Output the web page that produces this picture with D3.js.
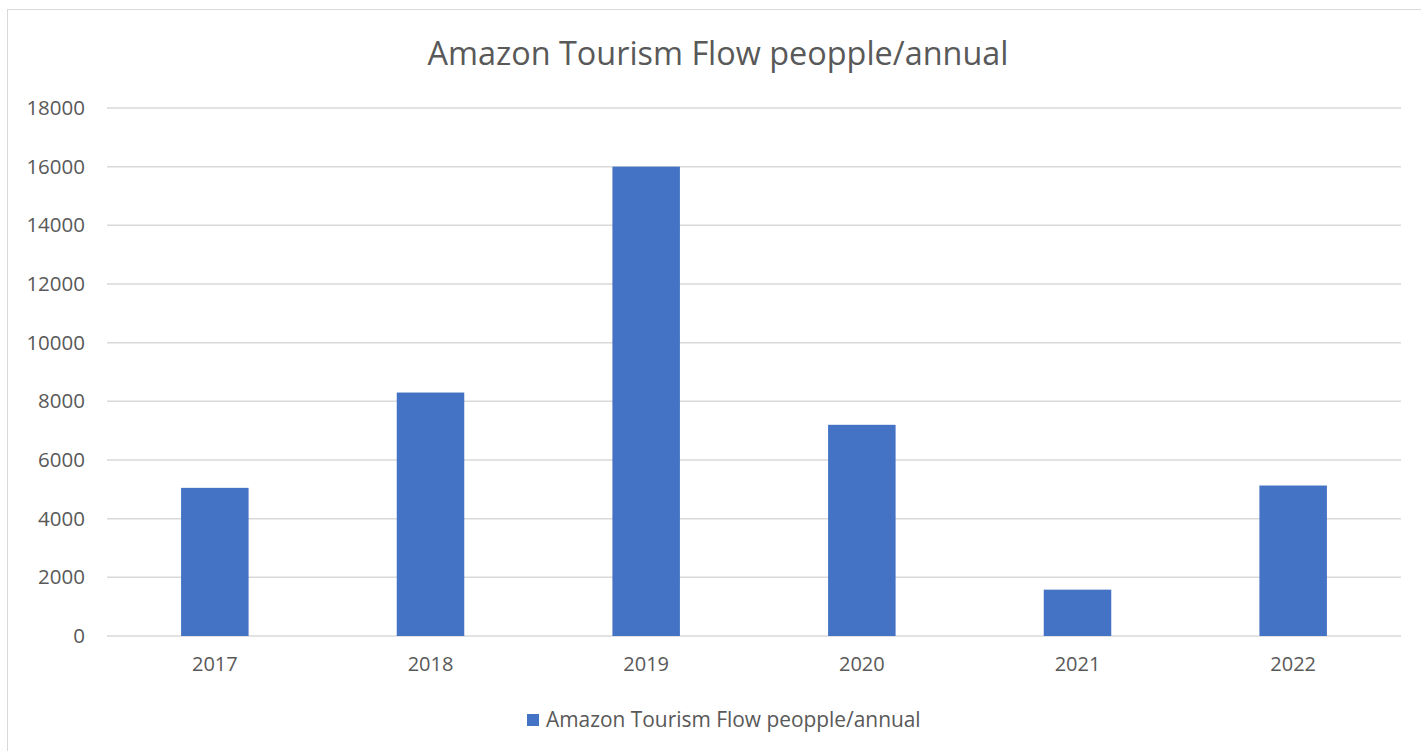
<!DOCTYPE html>
<html>
<head>
<meta charset="utf-8">
<script src="https://cdn.jsdelivr.net/npm/d3@7"></script>
<style>
  body { margin: 0; background: #fff; }
  text { font-family: 'Open Sans', sans-serif; fill: #595959; }
</style>
</head>
<body>
<script>
// chart data
var years = ["2017", "2018", "2019", "2020", "2021", "2022"]
var flow = [5050, 8300, 16000, 7200, 1580, 5130]
var yTicks = [0, 2000, 4000, 6000, 8000, 10000, 12000, 14000, 16000, 18000]
var seriesName = "Amazon Tourism Flow peopple/annual"

var w = 1421
var h = 751
var plotLeft = 107, plotRight = 1401, plotTop = 108, plotBottom = 636

var svg = d3.select("body")
    .append("svg")
    .attr("width", w)
    .attr("height", h)

// chart area border
svg.append("rect")
    .attr("x", 7.5)
    .attr("y", 9.5)
    .attr("width", w + 10)
    .attr("height", h + 10)
    .attr("fill", "none")
    .attr("stroke", "#d9d9d9")

var xScale = d3.scaleBand()
    .domain(years)
    .range([plotLeft, plotRight])
    .paddingInner(0.687)
    .paddingOuter(0.3435)

var yScale = d3.scaleLinear()
    .domain([0, 18000])
    .range([plotBottom, plotTop])

// gridlines
svg.append("g")
    .selectAll("line")
    .data(yTicks)
    .enter()
    .append("line")
    .attr("x1", plotLeft)
    .attr("x2", plotRight)
    .attr("y1", function(d) { return yScale(d) })
    .attr("y2", function(d) { return yScale(d) })
    .attr("stroke", "#d9d9d9")
    .attr("stroke-width", 1.5)

// y axis labels
var yAxis = d3.axisLeft(yScale)
    .tickValues(yTicks)
    .tickSize(0)
    .tickPadding(22)
    .tickFormat(d3.format("d"))

svg.append("g")
    .attr("transform", "translate(" + plotLeft + ",0)")
    .call(yAxis)
    .call(function(g) { g.select(".domain").remove() })
    .selectAll("text")
    .attr("font-size", 20.5)
    .attr("fill", "#595959")
    .attr("font-family", "'Open Sans', sans-serif")

// bars
svg.selectAll("rect.bar")
    .data(flow)
    .enter()
    .append("rect")
    .attr("class", "bar")
    .attr("x", function(d, i) { return xScale(years[i]) })
    .attr("y", function(d) { return yScale(d) })
    .attr("width", xScale.bandwidth())
    .attr("height", function(d) { return plotBottom - yScale(d) })
    .attr("fill", "#4472c4")

// x axis labels
var xAxis = d3.axisBottom(xScale)
    .tickSize(0)
    .tickPadding(21)

svg.append("g")
    .attr("transform", "translate(0," + plotBottom + ")")
    .call(xAxis)
    .call(function(g) { g.select(".domain").remove() })
    .selectAll("text")
    .attr("font-size", 20)
    .attr("fill", "#595959")
    .attr("font-family", "'Open Sans', sans-serif")

// title
svg.append("text")
    .attr("text-anchor", "middle")
    .attr("x", 718)
    .attr("y", 65)
    .attr("font-size", 32.4)
    .text(seriesName)

// legend
var legend = svg.append("g")
    .attr("transform", "translate(527,714)")

legend.append("rect")
    .attr("width", 12)
    .attr("height", 12)
    .attr("fill", "#4472c4")

legend.append("text")
    .attr("x", 19)
    .attr("y", 13)
    .attr("font-size", 20.9)
    .text(seriesName)
</script>
</body>
</html>
